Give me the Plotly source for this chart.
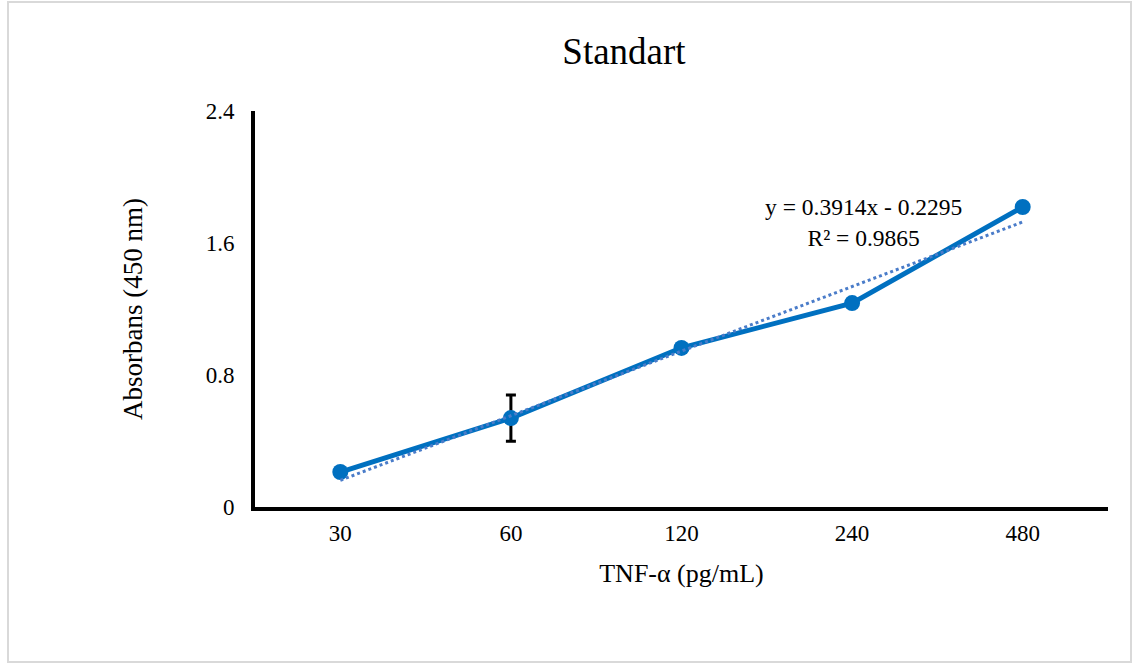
import plotly.graph_objects as go

categories = ["30", "60", "120", "240", "480"]
absorbance = [0.212, 0.539, 0.964, 1.236, 1.818]
error = [0.01, 0.14, 0.025, 0.01, 0.01]
slope = 0.3914
intercept = -0.2295
y_ticks = [0, 0.8, 1.6, 2.4]
y_tick_labels = ["0", "0.8", "1.6", "2.4"]

W, H = 1139, 664
L, R, T, B = 255, 31, 111, 157
pw, ph = W - L - R, H - T - B

trend = [slope * (i + 1) + intercept for i in range(len(categories))]

fig = go.Figure()
fig.add_trace(go.Scatter(
    x=categories, y=absorbance, mode="lines+markers",
    line=dict(color="#0070C0", width=5),
    marker=dict(color="#0070C0", size=16),
    error_y=dict(type="data", array=error, color="black", thickness=3, width=5),
    showlegend=False,
))
fig.add_trace(go.Scatter(
    x=categories, y=trend, mode="lines",
    line=dict(color="#4A7CC9", width=3, dash="dot"),
    showlegend=False,
))

font = "Liberation Serif, Times New Roman, serif"
fig.update_layout(
    width=W, height=H,
    margin=dict(l=L, r=R, t=T, b=B),
    paper_bgcolor="white", plot_bgcolor="white",
    font=dict(family=font, color="black", size=23),
    title=dict(text="Standart", x=624 / W, xanchor="center", y=1 - 51 / H, yanchor="middle",
               font=dict(size=37, family=font, color="black")),
    xaxis=dict(type="category", range=[-0.5, 4.5], showline=True, linecolor="black", linewidth=4,
               showgrid=False, zeroline=False, ticks="", tickfont=dict(size=23),
               ticklabelstandoff=2,
               title=dict(text="TNF-α (pg/mL)", font=dict(size=26), standoff=20)),
    yaxis=dict(range=[0, 2.4], tickvals=y_ticks, ticktext=y_tick_labels, showline=True,
               linecolor="black", linewidth=4, showgrid=False, zeroline=False, ticks="",
               tickfont=dict(size=23), ticklabelstandoff=12,
               title=dict(text="Absorbans (450 nm)", font=dict(size=27), standoff=56)),
    annotations=[
        dict(text="y = 0.3914x - 0.2295<br>R² = 0.9865", xref="x", yref="y",
             x=3.065, y=1.725, xanchor="center", yanchor="middle", showarrow=False,
             font=dict(size=23.5, family=font, color="black"), align="center"),
    ],
    shapes=[
        dict(type="rect", xref="paper", yref="paper",
             x0=(8 - L) / pw, x1=(1131 - L) / pw,
             y0=(H - B - 662) / ph, y1=(H - B - 2) / ph,
             line=dict(color="#D9D9D9", width=2), layer="below"),
    ],
)

fig.write_html("out.html", config={"displayModeBar": False},
               post_script="document.body.style.margin='0';document.body.style.overflow='hidden';")
